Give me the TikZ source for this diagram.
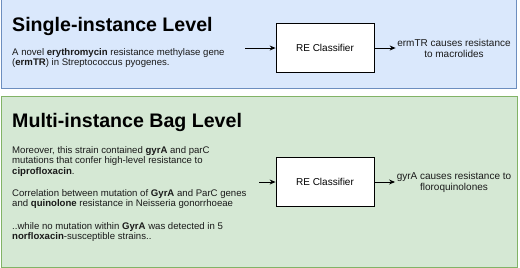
\documentclass[tikz,border=0pt]{standalone}
\usepackage{fontspec}
\setmainfont{Liberation Sans}
\usetikzlibrary{arrows.meta}
\definecolor{bluefill}{HTML}{DAE8FC}
\definecolor{blueline}{HTML}{6C8EBF}
\definecolor{greenfill}{HTML}{D5E8D4}
\definecolor{greenline}{HTML}{82B366}
\definecolor{txt}{HTML}{1A1A1A}
\begin{document}
\begin{tikzpicture}[x=1pt,y=-1pt,
  panelblue/.style={draw=blueline,fill=bluefill,line width=1pt},
  panelgreen/.style={draw=greenline,fill=greenfill,line width=1pt},
  title/.style={anchor=base west,inner sep=0pt,font=\fontsize{19.6}{23}\selectfont\bfseries,text=black},
  body/.style={anchor=north west,inner sep=0pt,align=left,font=\fontsize{9.6}{10.6}\selectfont,text=txt},
  classbox/.style={draw=black,fill=white,line width=0.8pt,minimum width=98pt,minimum height=49pt,inner sep=0pt,font=\fontsize{10}{12}\selectfont},
  outtext/.style={align=center,inner sep=1.5pt,font=\fontsize{10}{11.5}\selectfont,text=txt},
  conn/.style={draw=black,line width=0.9pt,-{Stealth[length=6pt,width=5pt]}}]
\useasboundingbox (0,0) rectangle (520,268);
\fill[white] (0,0) rectangle (520,268);
% panels
\draw[panelblue] (1,-2) rectangle (516,88);
\draw[panelgreen] (1,96) rectangle (517,267);
% titles
\node[title] (t1) at (12,31) {Single-instance Level};
\node[title] (t2) at (12,127) {Multi-instance Bag Level};
% body texts
\node[body] (b1) at (12,48) {A novel \textbf{erythromycin} resistance methylase gene\\(\textbf{ermTR}) in Streptococcus pyogenes.};
\node[body] (b2) at (12,146) {Moreover, this strain contained \textbf{gyrA} and parC\\mutations that confer high-level resistance to\\\textbf{ciprofloxacin}.};
\node[body] (b3) at (12,189) {Correlation between mutation of \textbf{GyrA} and ParC genes\\and \textbf{quinolone} resistance in Neisseria gonorrhoeae};
\node[body] (b4) at (12,222) {..while no mutation within \textbf{GyrA} was detected in 5\\\textbf{norfloxacin}-susceptible strains..};
% classifiers
\node[classbox] (c1) at (325,47.5) {RE Classifier};
\node[classbox] (c2) at (325,182) {RE Classifier};
% outputs
\node[outtext] (o1) at (454,48.5) {ermTR causes resistance\\to macrolides};
\node[outtext] (o2) at (454,182.5) {gyrA causes resistance to\\floroquinolones};
% connectors
\coordinate (s1) at (245,48);
\coordinate (s2) at (259,182);
\draw[conn] (s1) -- (c1.west |- s1);
\draw[conn] (s2) -- (c2.west |- s2);
\draw[conn] (c1.east |- s1) -- (o1.west |- s1);
\draw[conn] (c2.east |- s2) -- (o2.west |- s2);
\end{tikzpicture}
\end{document}
